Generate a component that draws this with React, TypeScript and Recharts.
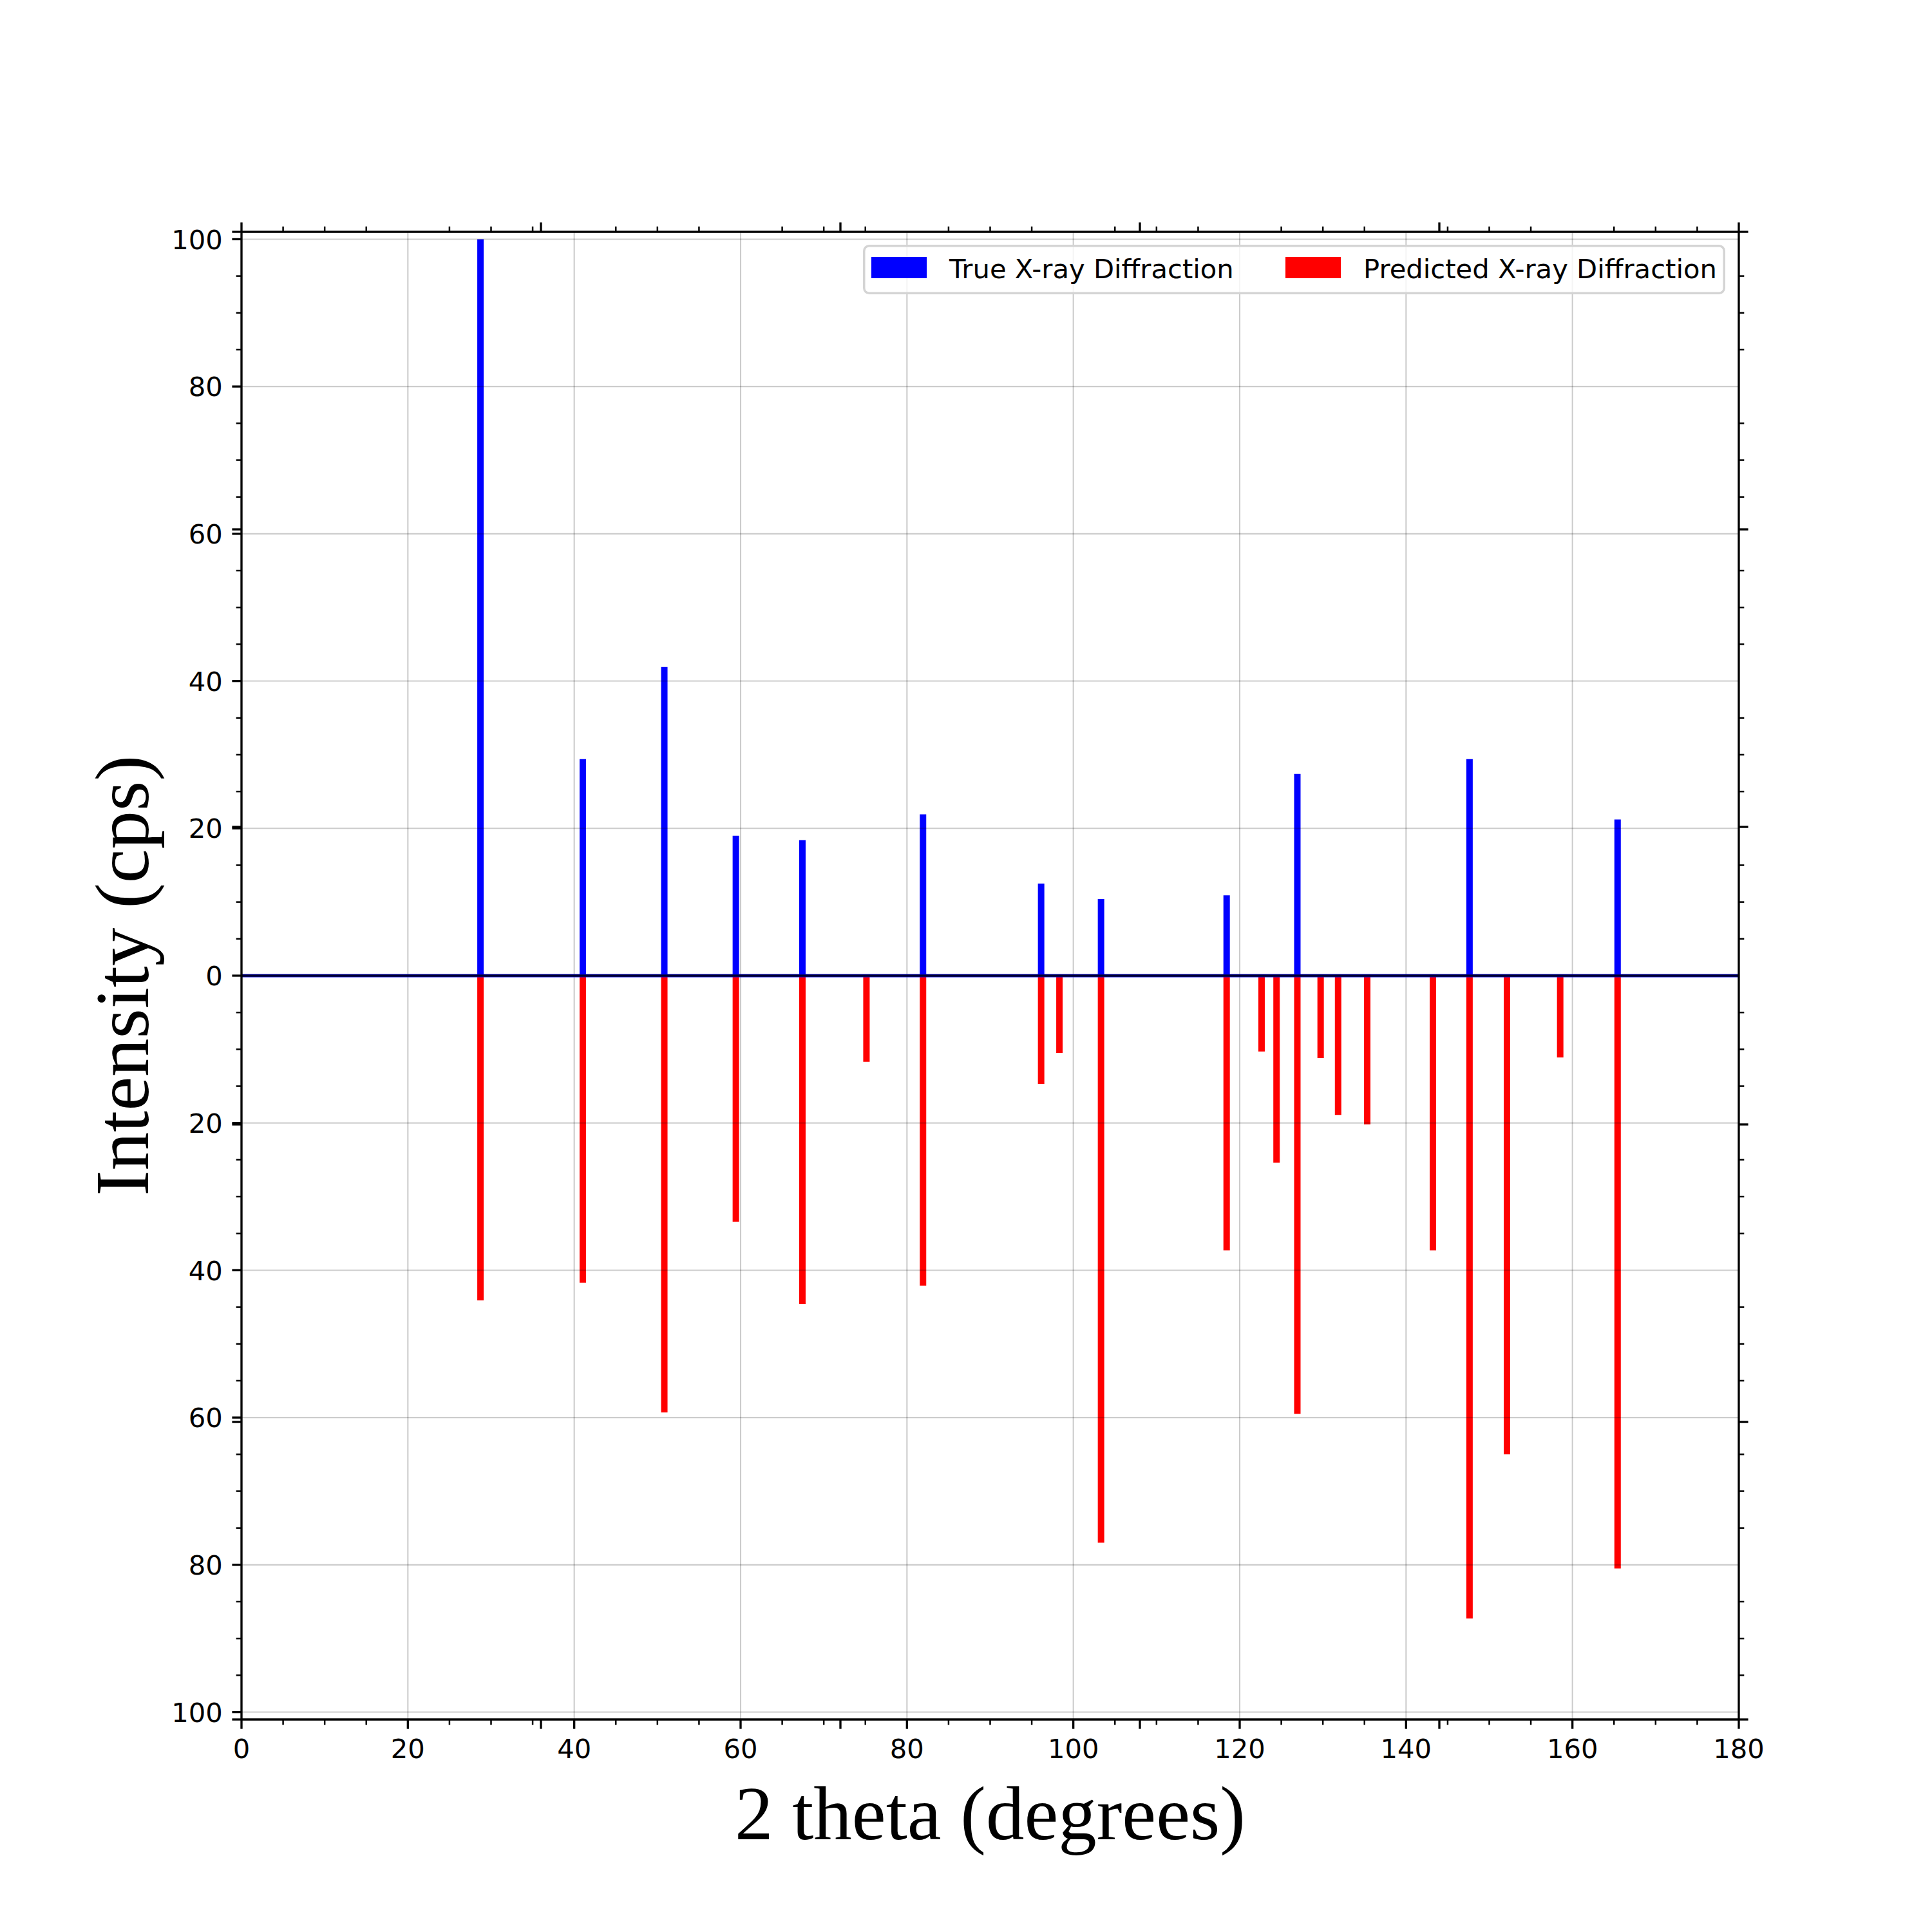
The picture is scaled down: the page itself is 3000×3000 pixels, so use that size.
import React from "react";
import {
  ComposedChart,
  Bar,
  XAxis,
  YAxis,
  ReferenceLine,
  Legend,
} from "recharts";

// peak positions (2 theta, degrees) and intensities
const trueAngles = [28.7, 41.0, 50.8, 59.4, 67.4, 81.9, 96.1, 103.3, 118.4, 126.9, 147.6, 165.4];
const trueIntensity = [100, 29.4, 41.9, 19.0, 18.4, 21.9, 12.5, 10.4, 10.9, 27.4, 29.4, 21.2];

const predAngles = [
  28.7, 41.0, 50.8, 59.4, 67.4, 75.1, 81.9, 96.1, 98.3, 103.3, 118.4,
  122.6, 124.4, 126.9, 129.7, 131.8, 135.3, 143.2, 147.6, 152.1, 158.5, 165.4,
];
const predIntensity = [
  44.1, 41.7, 59.3, 33.4, 44.6, 11.7, 42.1, 14.7, 10.5, 77.0, 37.3,
  10.3, 25.4, 59.5, 11.2, 18.9, 20.2, 37.3, 87.3, 65.0, 11.1, 80.5,
];

const xMajorTicks = [0, 20, 40, 60, 80, 100, 120, 140, 160, 180];
const xMinorTicks = [
  5, 10, 15, 25, 30, 35, 45, 50, 55, 65, 70, 75, 85, 90, 95, 105, 110, 115,
  125, 130, 135, 145, 150, 155, 165, 170, 175,
];
const xTwinTicks = [0, 36, 72, 108, 144, 180];

const yMajorTicks = [-100, -80, -60, -40, -20, 0, 20, 40, 60, 80, 100];
const yMinorTicks = [
  -95, -90, -85, -75, -70, -65, -55, -50, -45, -35, -30, -25, -15, -10, -5,
  5, 10, 15, 25, 30, 35, 45, 50, 55, 65, 70, 75, 85, 90, 95,
];
const yTwinTicks = [-101, -60.6, -20.2, 20.2, 60.6, 101];

const X_DOMAIN = [0, 180];
const Y_DOMAIN = [-101, 101];

const TRUE_NAME = "True X-ray Diffraction";
const PRED_NAME = "Predicted X-ray Diffraction";
const legendOrder = [TRUE_NAME, PRED_NAME];

const angles = Array.from(new Set([...trueAngles, ...predAngles])).sort((a, b) => a - b);
const data = angles.map((angle) => {
  const ti = trueAngles.indexOf(angle);
  const pi = predAngles.indexOf(angle);
  return {
    angle,
    observed: ti >= 0 ? trueIntensity[ti] : 0,
    predicted: pi >= 0 ? -predIntensity[pi] : 0,
  };
});

const uniq = (arr: number[]) => Array.from(new Set(arr)).sort((a, b) => a - b);
const has = (arr: number[], v: number) => arr.some((t) => Math.abs(t - v) < 1e-6);

const FONT = '"DejaVu Sans", sans-serif';
const TITLE_FONT = '"Liberation Serif", "Times New Roman", serif';
const TICK_FS = 41.7;
const MAJ = 14.6;
const MIN = 8.3;
const MAJ_W = 3.33;
const MIN_W = 2.5;
const PAD = 14.6;

function BottomTick(props: any) {
  const { x, y, payload } = props;
  const v = payload.value;
  const labelled = has(xMajorTicks, v);
  const major = labelled || has(xTwinTicks, v);
  return (
    <g>
      <line x1={x} x2={x} y1={y} y2={y + (major ? MAJ : MIN)} stroke="#000" strokeWidth={major ? MAJ_W : MIN_W} />
      {labelled && (
        <text x={x} y={y + MAJ + PAD + 30.4} textAnchor="middle" fontFamily={FONT} fontSize={TICK_FS} fill="#000">
          {v}
        </text>
      )}
    </g>
  );
}

function TopTick(props: any) {
  const { x, y, payload } = props;
  const major = has(xTwinTicks, payload.value);
  return (
    <line x1={x} x2={x} y1={y} y2={y - (major ? MAJ : MIN)} stroke="#000" strokeWidth={major ? MAJ_W : MIN_W} />
  );
}

function LeftTick(props: any) {
  const { x, y, payload } = props;
  const v = payload.value;
  const labelled = has(yMajorTicks, v);
  const major = labelled || has(yTwinTicks, v);
  return (
    <g>
      <line x1={x} x2={x - (major ? MAJ : MIN)} y1={y} y2={y} stroke="#000" strokeWidth={major ? MAJ_W : MIN_W} />
      {labelled && (
        <text x={x - MAJ - PAD} y={y + 15.2} textAnchor="end" fontFamily={FONT} fontSize={TICK_FS} fill="#000">
          {Math.abs(v)}
        </text>
      )}
    </g>
  );
}

function RightTick(props: any) {
  const { x, y, payload } = props;
  const major = has(yTwinTicks, payload.value);
  return (
    <line x1={x} x2={x + (major ? MAJ : MIN)} y1={y} y2={y} stroke="#000" strokeWidth={major ? MAJ_W : MIN_W} />
  );
}

function XTitle(props: any) {
  const vb = props.viewBox || { x: 375, y: 2670, width: 2325, height: 250 };
  return (
    <text x={vb.x + vb.width / 2} y={vb.y + 186} textAnchor="middle" fontFamily={TITLE_FONT} fontSize={119} fill="#000">
      2 theta (degrees)
    </text>
  );
}

function YTitle(props: any) {
  const vb = props.viewBox || { x: 0, y: 360, width: 375, height: 2310 };
  const cx = vb.x + 230;
  const cy = vb.y + vb.height / 2;
  return (
    <text x={cx} y={cy} transform={`rotate(-90, ${cx}, ${cy})`} textAnchor="middle" fontFamily={TITLE_FONT} fontSize={119} fill="#000">
      Intensity (cps)
    </text>
  );
}

const entryOffsets = [0, 643];

function LegendBox(props: any) {
  const payload = [...(props.payload || [])].sort(
    (a: any, b: any) => legendOrder.indexOf(a.value) - legendOrder.indexOf(b.value)
  );
  return (
    <svg width={1339} height={77} style={{ display: "block" }}>
      <rect x={1.75} y={1.75} width={1335.5} height={73.5} rx={8} ry={8} fill="#fff" fillOpacity={0.8} stroke="#d4d4d4" strokeWidth={3.5} />
      {payload.map((entry: any, i: number) => (
        <g key={entry.value} transform={`translate(${entryOffsets[i] || 0}, 0)`}>
          <rect x={13} y={19} width={86} height={33} fill={entry.color} />
          <text x={134} y={52} fontFamily={FONT} fontSize={TICK_FS} fill="#000">
            {entry.value}
          </text>
        </g>
      ))}
    </svg>
  );
}

export default function App() {
  return (
    <div style={{ position: "absolute", left: 0, top: 0, width: 3000, height: 3000, background: "#fff" }}>
      <ComposedChart
        width={3000}
        height={3000}
        data={data}
        stackOffset="sign"
        margin={{ top: 359, right: 299, bottom: 80, left: 0 }}
      >
        <Bar
          xAxisId="main"
          yAxisId="main"
          dataKey="observed"
          name={TRUE_NAME}
          stackId="xrd"
          fill="#0000ff"
          barSize={10}
          isAnimationActive={false}
        />
        <Bar
          xAxisId="main"
          yAxisId="main"
          dataKey="predicted"
          name={PRED_NAME}
          stackId="xrd"
          fill="#ff0000"
          barSize={10}
          isAnimationActive={false}
        />
        {xMajorTicks.map((v) => (
          <ReferenceLine key={`gx${v}`} xAxisId="main" yAxisId="main" x={v} stroke="#000" strokeOpacity={0.2} strokeWidth={2.1} />
        ))}
        {yMajorTicks.map((v) => (
          <ReferenceLine key={`gy${v}`} xAxisId="main" yAxisId="main" y={v} stroke="#000" strokeOpacity={0.2} strokeWidth={2.1} />
        ))}
        <ReferenceLine xAxisId="main" yAxisId="main" y={0} stroke="#0000ff" strokeWidth={5} />
        <ReferenceLine xAxisId="main" yAxisId="main" y={0} stroke="#000030" strokeWidth={3.4} />
        <Legend
          layout="horizontal"
          verticalAlign="middle"
          align="center"
          width={1339}
          height={77}
          wrapperStyle={{ left: 1340, top: 380, width: 1339, height: 77 }}
          content={LegendBox}
        />
        <XAxis
          xAxisId="main"
          dataKey="angle"
          type="number"
          orientation="bottom"
          domain={X_DOMAIN}
          allowDataOverflow
          ticks={uniq([...xMajorTicks, ...xMinorTicks, ...xTwinTicks])}
          interval={0}
          height={250}
          tickSize={0}
          tickMargin={0}
          tickLine={false}
          tick={(p: any) => <BottomTick {...p} />}
          axisLine={{ stroke: "#000", strokeWidth: 3.33 }}
          label={(p: any) => <XTitle {...p} />}
        />
        <XAxis
          xAxisId="top"
          dataKey="angle"
          type="number"
          orientation="top"
          domain={X_DOMAIN}
          allowDataOverflow
          ticks={uniq([...xTwinTicks, ...xMinorTicks])}
          interval={0}
          height={1}
          tickSize={0}
          tickMargin={0}
          tickLine={false}
          tick={(p: any) => <TopTick {...p} />}
          axisLine={{ stroke: "#000", strokeWidth: 3.33 }}
        />
        <YAxis
          yAxisId="main"
          type="number"
          orientation="left"
          domain={Y_DOMAIN}
          allowDataOverflow
          ticks={uniq([...yMajorTicks, ...yMinorTicks, ...yTwinTicks])}
          interval={0}
          width={375}
          tickSize={0}
          tickMargin={0}
          tickLine={false}
          tick={(p: any) => <LeftTick {...p} />}
          axisLine={{ stroke: "#000", strokeWidth: 3.33 }}
          label={(p: any) => <YTitle {...p} />}
        />
        <YAxis
          yAxisId="right"
          type="number"
          orientation="right"
          domain={Y_DOMAIN}
          allowDataOverflow
          ticks={uniq([...yTwinTicks, ...yMinorTicks])}
          interval={0}
          width={1}
          tickSize={0}
          tickMargin={0}
          tickLine={false}
          tick={(p: any) => <RightTick {...p} />}
          axisLine={{ stroke: "#000", strokeWidth: 3.33 }}
        />
      </ComposedChart>
    </div>
  );
}
